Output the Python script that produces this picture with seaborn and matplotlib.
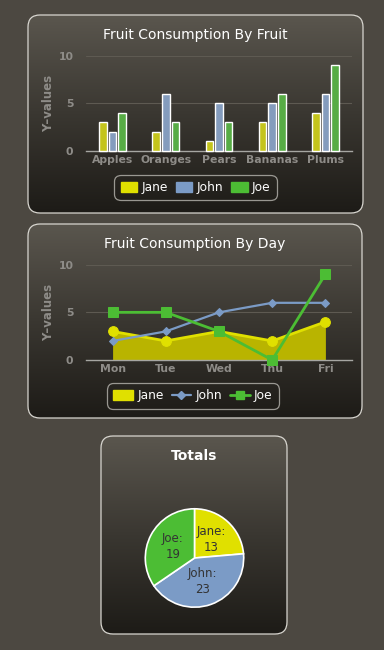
import numpy as np
import pandas as pd
import matplotlib
matplotlib.use('Agg')
import matplotlib.pyplot as plt
import seaborn as sns
from matplotlib.patches import FancyBboxPatch, Patch
from matplotlib.lines import Line2D
from matplotlib.colors import LinearSegmentedColormap

# ── Data ─────────────────────────────────────────────────────────────────────
people = ['Jane', 'John', 'Joe']
fruits = ['Apples', 'Oranges', 'Pears', 'Bananas', 'Plums']
jane_fruit = [3, 2, 1, 3, 4]
john_fruit = [2, 6, 5, 5, 6]
joe_fruit = [4, 3, 3, 6, 9]

days = ['Mon', 'Tue', 'Wed', 'Thu', 'Fri']
jane_day = [3, 2, 3, 2, 4]
john_day = [2, 3, 5, 6, 6]
joe_day = [5, 5, 3, 0, 9]

totals = [13, 23, 19]
y_ticks = [0, 5, 10]

# ── Style ────────────────────────────────────────────────────────────────────
JANE, JOHN, JOE = '#e0e000', '#7b9bc6', '#4cbd34'
JANE_FILL = '#b9b400'
PAGE_BG = '#4c4841'
TICK_GREY = '#8e8c88'
GRID = '#5e5a52'
W, H = 384, 650

sns.set_theme(style='white')
plt.rcParams['font.family'] = ['DejaVu Sans']

fig = plt.figure(figsize=(W / 100, H / 100), dpi=100, facecolor=PAGE_BG)

# background layer in pixel coordinates (y grows downward)
bg = fig.add_axes([0, 0, 1, 1])
bg.set_xlim(0, W)
bg.set_ylim(H, 0)
bg.axis('off')

panel_cmap = LinearSegmentedColormap.from_list('panel', ['#5a564e', '#3a3731', '#1d1b17'])


def px_rect(left, top, width, height):
    return [left / W, 1 - (top + height) / H, width / W, height / H]


def draw_panel(x0, y0, x1, y1, r=12):
    box = FancyBboxPatch((x0 + r, y0 + r), x1 - x0 - 2 * r, y1 - y0 - 2 * r,
                         boxstyle=f'round,pad={r}', facecolor='none',
                         edgecolor='#d8d6d0', linewidth=0.9, zorder=3)
    bg.add_patch(box)
    grad = np.linspace(0, 1, 256).reshape(-1, 1)
    im = bg.imshow(grad, extent=(x0, x1, y1, y0), cmap=panel_cmap,
                   aspect='auto', origin='upper', zorder=1)
    im.set_clip_path(box)


def style_axes(ax, labels):
    ax.set_facecolor('none')
    ax.set_xlim(-0.5, len(labels) - 0.5)
    ax.set_ylim(0, 10)
    for s in ['top', 'right', 'left']:
        ax.spines[s].set_visible(False)
    ax.spines['bottom'].set_color('#a6a6a2')
    ax.spines['bottom'].set_linewidth(1.0)
    ax.set_yticks(y_ticks)
    ax.set_yticklabels([str(t) for t in y_ticks])
    ax.set_xticks(range(len(labels)))
    ax.set_xticklabels(labels)
    ax.set_xticks(np.arange(-0.5, len(labels)), minor=True)
    ax.tick_params(axis='x', which='major', length=0, pad=3, colors=TICK_GREY,
                   labelsize=7.8)
    ax.tick_params(axis='x', which='minor', length=4, width=1, color='#a6a6a2',
                   direction='out')
    ax.tick_params(axis='y', length=0, pad=9, colors=TICK_GREY, labelsize=7.8)
    for lab in ax.get_xticklabels() + ax.get_yticklabels():
        lab.set_fontweight('bold')
    for yv in y_ticks[1:]:
        ax.axhline(yv, color=GRID, linewidth=0.8, zorder=0)
    ax.set_xlabel('')
    ax.set_ylabel('')


def add_legend(handles, cx, cy, hlen):
    leg = bg.legend(handles=handles, labels=people, loc='center',
                    bbox_to_anchor=(cx, cy), bbox_transform=bg.transData,
                    ncol=3, frameon=True, fontsize=8.8, labelcolor='white',
                    handlelength=hlen, handleheight=0.85, handletextpad=0.35,
                    columnspacing=0.65, borderpad=0.3, fancybox=True)
    frame = leg.get_frame()
    frame.set_facecolor('none')
    frame.set_edgecolor('#b8b6b0')
    frame.set_linewidth(0.9)
    frame.set_boxstyle('round,pad=0.2,rounding_size=0.5')
    leg.set_zorder(5)
    bg.add_artist(leg)
    bg.legend_ = None  # keep it only as an added artist, so it draws once


# ── Panels ───────────────────────────────────────────────────────────────────
draw_panel(28, 15, 363, 213)
draw_panel(28, 224, 362, 418)
draw_panel(101, 436, 287, 634)

title_kw = dict(color='white', fontsize=10, ha='center', va='center', zorder=6)
bg.text(195.5, 35, 'Fruit Consumption By Fruit', **title_kw)
bg.text(195, 244, 'Fruit Consumption By Day', **title_kw)
bg.text(194, 456, 'Totals', fontweight='bold', **title_kw)

ylab_kw = dict(color=TICK_GREY, fontsize=8.5, fontweight='bold', rotation=90,
               ha='center', va='center', zorder=6)
bg.text(49, 103, 'Y\u2013values', **ylab_kw)
bg.text(49, 312, 'Y\u2013values', **ylab_kw)

# ── Chart 1: bars ────────────────────────────────────────────────────────────
bar_df = pd.DataFrame({
    'fruit': fruits * 3,
    'person': [p for p in people for _ in fruits],
    'value': jane_fruit + john_fruit + joe_fruit,
})
ax1 = fig.add_axes(px_rect(86, 55.5, 266, 95.5))
sns.barplot(data=bar_df, x='fruit', y='value', hue='person', hue_order=people,
            palette=[JANE, JOHN, JOE], width=0.54, gap=0.2, edgecolor='white',
            linewidth=1.0, legend=False, ax=ax1, zorder=3)
style_axes(ax1, fruits)
for b in ax1.patches:
    b.set_clip_on(False)

add_legend([Patch(facecolor=c, edgecolor=c) for c in (JANE, JOHN, JOE)],
           195.5, 187.5, 1.35)

# ── Chart 2: lines ───────────────────────────────────────────────────────────
xpos = np.arange(len(days))
ax2 = fig.add_axes(px_rect(86, 264.7, 266, 95.3))
ax2.fill_between(xpos, jane_day, 0, color=JANE_FILL, zorder=2, linewidth=0)
sns.lineplot(x=xpos, y=jane_day, color=JANE, linewidth=2, marker='o',
             markersize=7, markeredgecolor=JANE, ax=ax2, zorder=3, clip_on=False)
sns.lineplot(x=xpos, y=john_day, color=JOHN, linewidth=1.6, marker='D',
             markersize=4.5, markeredgecolor=JOHN, ax=ax2, zorder=4, clip_on=False)
sns.lineplot(x=xpos, y=joe_day, color=JOE, linewidth=2, marker='s',
             markersize=7, markeredgecolor=JOE, ax=ax2, zorder=5, clip_on=False)
style_axes(ax2, days)

add_legend([Patch(facecolor=JANE, edgecolor=JANE),
            Line2D([], [], color=JOHN, lw=1.6, marker='D', markersize=4.5),
            Line2D([], [], color=JOE, lw=2, marker='s', markersize=6)],
           193, 396, 1.6)

# ── Chart 3: pie ─────────────────────────────────────────────────────────────
ax3 = fig.add_axes(px_rect(194.5 - 61.5, 558 - 61.5, 123, 123))
wedges, texts = ax3.pie(totals, colors=[JANE, JOHN, JOE], startangle=90,
                        counterclock=False,
                        labels=[f'{p}:\n{v}' for p, v in zip(people, totals)],
                        labeldistance=0.5,
                        wedgeprops=dict(edgecolor='white', linewidth=1.2),
                        textprops=dict(color='#333333', fontsize=8.5))
for t in texts:
    t.set_ha('center')
    t.set_va('center')
    t.set_linespacing(1.3)
ax3.set_aspect('equal')

fig.savefig('out.png', dpi=100, facecolor=PAGE_BG)
